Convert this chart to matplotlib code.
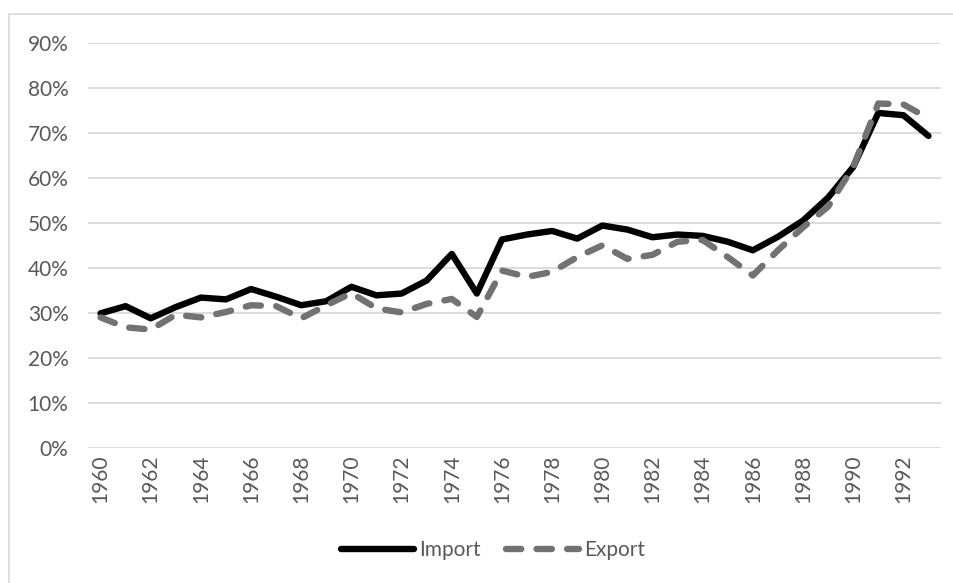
import matplotlib.pyplot as plt
from matplotlib.patches import Rectangle
from matplotlib.ticker import PercentFormatter

plt.rcParams['font.family'] = ['Lato', 'DejaVu Sans']
plt.rcParams['lines.scale_dashes'] = False

years = list(range(1960, 1994))
imports = [29.9, 31.5, 28.8, 31.3, 33.4, 33.0, 35.3, 33.6, 31.7, 32.6, 35.8,
           33.9, 34.3, 37.2, 43.1, 34.3, 46.3, 47.4, 48.2, 46.5, 49.4, 48.5,
           46.8, 47.4, 47.1, 45.8, 43.9, 46.9, 50.5, 55.6, 62.4, 74.4, 73.9, 69.3]
exports = [29.0, 26.8, 26.3, 29.6, 29.0, 30.2, 31.7, 31.5, 28.8, 31.7, 34.4,
           31.0, 30.1, 32.0, 33.1, 29.1, 39.4, 38.0, 39.1, 42.4, 45.0, 42.0,
           42.9, 45.8, 46.2, 42.4, 38.3, 43.9, 49.0, 53.6, 62.4, 76.5, 76.3, 73.2]
y_ticks = list(range(0, 100, 10))

W, H = 954, 583
fig = plt.figure(figsize=(W / 100, H / 100), dpi=100)

# chart area border
fig.patches.append(Rectangle((9.5 / W, -0.01), 1.02 - 9.5 / W, 1 - 13.5 / H + 0.01,
                             transform=fig.transFigure, fill=False,
                             edgecolor='#d9d9d9', linewidth=1.2))

ax = fig.add_axes([88 / W, 1 - 448 / H, (941 - 88) / W, (448 - 42.7) / H])

x = list(range(len(years)))
ax.plot(x, imports, color='black', linewidth=4.6, solid_capstyle='round',
        solid_joinstyle='round', label='Import', zorder=3)
ax.plot(x, exports, color='#767171', linewidth=4.6, dashes=(11, 11),
        dash_capstyle='round', dash_joinstyle='round', label='Export', zorder=3)

ax.set_xlim(-0.5, len(years) - 0.5)
ax.set_ylim(0, 90)
ax.set_yticks(y_ticks)
ax.yaxis.set_major_formatter(PercentFormatter(decimals=0))
ax.set_xticks(x[::2])
ax.set_xticklabels([str(y) for y in years[::2]], rotation=90)

ax.grid(axis='y', color='#d9d9d9', linewidth=1.3)
ax.set_axisbelow(True)
for s in ax.spines.values():
    s.set_visible(False)
ax.tick_params(axis='both', length=0, colors='#595959', labelsize=15)
ax.tick_params(axis='y', pad=14)
ax.tick_params(axis='x', pad=5)

ax.legend(loc='center', bbox_to_anchor=(493 / W, 1 - 550 / H),
          bbox_transform=fig.transFigure, ncol=2, frameon=False,
          handlelength=3.5, handletextpad=0.25, columnspacing=1.2,
          labelcolor='#595959', fontsize=15)

fig.savefig('out.png', dpi=100)
